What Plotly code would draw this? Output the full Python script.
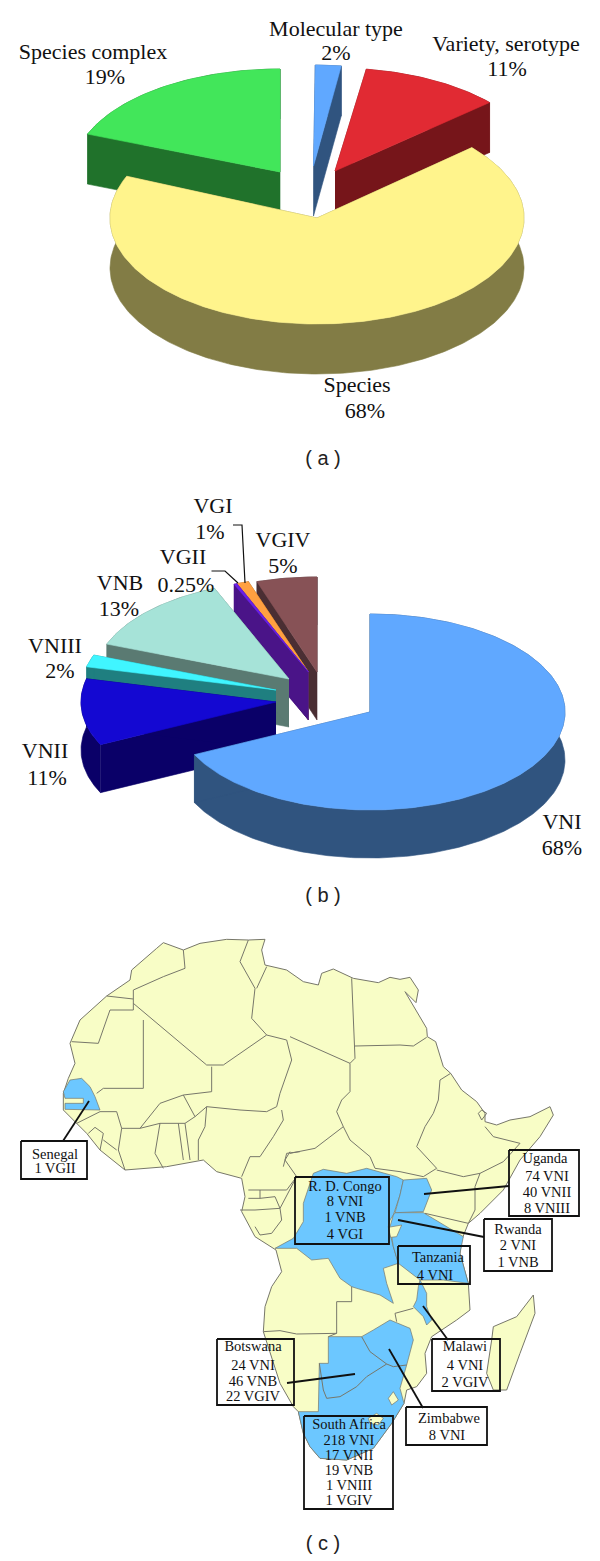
import math
import plotly.graph_objects as go

# ---------- DATA ----------
pie_a_names = ["Molecular type", "Variety, serotype", "Species", "Species complex"]
pie_a_values = [2, 11, 68, 19]
pie_b_names = ["VNI", "VNII", "VNIII", "VNB", "VGII", "VGI", "VGIV"]
pie_b_values = [68, 11, 2, 13, 0.25, 1, 5]

pie_a_labels = [("Molecular type", 336, 30), ("2%", 336, 54), ("Variety, serotype", 506, 45), ("11%", 507, 70),
                ("Species complex", 93, 53), ("19%", 105, 78), ("Species", 357, 386), ("68%", 365, 412)]
pie_b_labels = [("VGI", 213, 507), ("1%", 210, 533), ("VGIV", 283, 541), ("5%", 283, 567), ("VGII", 183, 558),
                ("0.25%", 186, 586), ("VNB", 120, 584), ("13%", 119, 610), ("VNIII", 55, 647), ("2%", 60, 672),
                ("VNII", 45, 752), ("11%", 47, 779), ("VNI", 562, 823), ("68%", 562, 849)]
panel_letters = [("( a )", 323, 460), ("( b )", 323, 897), ("( c )", 323, 1545)]

# map outlines in three sheets (sheet units: 3 per pixel)
sheet_w = (0, 920)
sheet_e = (290, 920)
sheet_s = (200, 1140)
coast_north = [(490,68),(550,90),(600,70),(680,58),(745,60),(795,58),(785,90),(795,135),(860,150),(900,180)]
coast_east = [(40,185),(85,195),(95,160),(130,147),(190,175),(265,188),(300,172),(330,178),(360,172),(385,210),(378,248),
              (345,215),(410,325),(412,350),(437,365),(460,440),(482,460),(515,510),(560,545),(585,580),(585,605),(620,615),
              (660,600),(720,590),(780,560),(790,585),(750,650),(690,720),(640,810),(570,880),(535,910),(515,960)]
coast_south = [(780,340),(805,430),(810,510),(770,540),(695,590),(675,640),(680,700),(650,740),(620,750),(612,790),(600,810),
               (575,850),(520,925),(440,960),(360,955),(330,920),(310,880),(295,815),(280,800),(240,730),(190,575),(195,500),
               (215,440),(245,395),(228,330),(165,290),(125,215)]
coast_west = [(735,830),(725,775),(650,755),(610,720),(500,740),(375,750),(300,690),(260,640),(230,610),(190,570),(190,520),
              (205,475),(225,430),(210,370),(240,300),(320,228),(390,180),(395,150),(470,85),(490,68)]
madagascar = [(1000,465),(1005,520),(960,640),(920,750),(880,750),(860,700),(875,600),(880,560),(950,530)]

senegal = [(190,515),(210,480),(245,475),(270,500),(285,530),(300,570),(195,568),(195,550),(250,550),(250,535),(195,535)]
drc = [(340,100),(370,88),(440,100),(500,85),(590,110),(610,120),(600,165),(580,225),(570,240),(565,260),(580,320),(595,370),
       (550,385),(560,430),(580,490),(540,465),(470,445),(455,440),(420,415),(385,355),(335,360),(290,325),(225,325),(280,295),
       (310,245),(310,190)]
tanzania = [(585,218),(670,218),(790,290),(780,340),(805,430),(730,420),(660,420),(595,370),(580,320),(570,260),(580,225)]
uganda = [(610,120),(680,115),(695,150),(670,215),(585,218),(600,165)]
malawi = [(655,440),(650,480),(640,500),(670,530),(680,555),(695,540),(680,500),(680,460),(660,420)]
southern = [(385,590),(485,590),(520,570),(570,540),(630,565),(640,600),(620,675),(600,745),(612,790),(600,810),(575,850),(520,925),
            (440,960),(360,955),(330,920),(310,880),(295,815),(355,815),(358,670),(385,670)]
burundi = [(565,262),(605,255),(590,290),(572,292)]
lesotho = [(505,835),(530,820),(550,835),(535,855),(510,850)]
swaziland = [(565,775),(580,755),(595,780),(575,795)]

borders_w = [
    [(550,90),(555,145),(490,170),(400,210),(400,237),(320,228)],
    [(400,250),(460,300),(620,435),(670,435),(800,345),(755,295),(765,205),(720,125),(745,60)],
    [(400,237),(400,270),(330,270),(295,370),(215,365)],
    [(800,140),(770,205)],
    [(430,300),(430,505),(310,505),(290,520)],
    [(635,440),(635,515),(550,525),(480,550),(420,625),(365,625),(350,575),(300,575)],
    [(800,345),(860,360),(875,420),(840,520),(830,560),(800,575),(720,570),(620,560),(585,590),(550,525)],
    [(420,625),(480,610),(555,610),(585,590)],
    [(480,610),(465,700),(490,745)],
    [(535,610),(550,720)],
    [(555,610),(570,720)],
    [(620,560),(615,620),(595,660),(595,720)],
    [(365,625),(355,690),(375,750)],
    [(230,610),(300,575)],
    [(265,640),(285,622),(310,640),(300,690)],
    [(310,660),(350,690)],
    [(725,770),(750,710),(780,710),(820,650),(850,600),(845,570)],
    [(850,740),(860,700),(900,695)],
]
borders_e = [
    [(185,175),(195,378),(195,415),(180,430),(0,350)],
    [(180,430),(180,515),(155,540),(140,575),(160,620),(180,660),(240,710),(255,745),(330,755),(400,770),(440,745)],
    [(195,378),(330,375),(370,378),(410,352)],
    [(160,620),(75,685),(0,700)],
    [(482,460),(450,480),(445,540),(430,580),(405,620),(380,680),(440,745)],
    [(440,750),(520,770),(570,760),(640,725),(690,670),(610,650),(585,620)],
    [(570,760),(555,800),(555,870),(535,910)],
    [(405,880),(535,910)],
    [(565,580),(575,570),(590,580),(575,600),(565,580)],
]
borders_s = [
    [(120,210),(165,210),(240,205),(290,110),(255,60),(270,35)],
    [(145,150),(180,150),(180,175),(145,175)],
    [(180,150),(260,150),(290,110)],
    [(180,175),(225,170),(240,205),(245,240),(215,280),(180,285),(165,260)],
    [(455,440),(455,485),(410,485),(410,580)],
    [(190,575),(240,572),(290,582),(410,580),(385,590)],
    [(585,520),(640,505)],
    [(585,520),(590,545)],
    [(358,670),(370,750),(380,775),(420,770),(470,740),(500,710),(560,672)],
    [(485,590),(510,635),(560,672),(580,680),(620,675)],
]

map_boxes = [(21,1141,87,1179),(295,1177,389,1244),(509,1150,579,1216),(484,1219,552,1271),(398,1246,470,1284),
             (432,1339,500,1391),(406,1407,487,1445),(217,1339,294,1405),(304,1416,393,1509)]
map_leaders = [(63,1141,89,1101),(424,1194,509,1186),(398,1220,484,1237),(423,1306,448,1340),
               (389,1349,423,1408),(287,1383,355,1374)]
map_texts = [("Senegal",55,1155),("1 VGII",55,1169),
             ("R. D. Congo",345,1187),("8 VNI",345,1202),("1 VNB",345,1218),("4 VGI",345,1235),
             ("Uganda",545,1159),("74 VNI",547,1177),("40 VNII",547,1193),("8 VNIII",547,1209),
             ("Rwanda",518,1230),("2 VNI",518,1246),("1 VNB",518,1263),
             ("Tanzania",438,1258),("4 VNI",435,1276),
             ("Malawi",465,1347),("4 VNI",465,1366),("2 VGIV",465,1383),
             ("Zimbabwe",449,1419),("8 VNI",447,1436),
             ("Botswana",253,1347),("24 VNI",253,1366),("46 VNB",253,1382),("22 VGIV",253,1397),
             ("South Africa",349,1425),("218 VNI",349,1441),("17 VNII",349,1456),("19 VNB",349,1471),("1 VNIII",349,1486),("1 VGIV",349,1501)]

# ---------- STYLE ----------
a_top = ["#60A8FF", "#E12A33", "#FFF48C", "#42E65A"]
a_side = ["#30547F", "#76151A", "#827C45", "#20722B"]
a_apex = [(313.5,166), (335,171), (317,218), (280,172)]
a_radii = [(207,101), (207,103), (207,106), (207,103)]
a_depth = 50
a_start = 0
a_turn = [0.5, 1.5, 1.6, 0]
a_order = [3, 1, 0, 2]

b_top = ["#60A8FF", "#1408D2", "#40F5FF", "#A6E3D8", "#6A20E8", "#FFA040", "#875256"]
b_side = ["#30547F", "#0A0068", "#1F7F80", "#5A7A72", "#4A1488", "#8A5A20", "#4A2E33"]
b_apex = [(370,712), (276,702), (276,690), (289,679), (308.5,672), (308.5,672), (317,672)]
b_radii = [(195,98), (195,98), (195,98), (195,98), (195,95), (195,95), (195,95)]
b_depth = 48
b_start = 0
b_turn = [0, 0, 0, 0, 0, 0, 0]
b_order = [6, 5, 4, 3, 2, 1, 0]

serif = "Liberation Serif"
land = "#F8FDC6"
blue = "#6CC7FF"
border = "#77776A"

fig = go.Figure()


def poly(xs, ys, fill, line=None, width=0.6):
    fig.add_trace(go.Scatter(x=xs, y=ys, mode="lines", fill="toself", fillcolor=fill,
                             line=dict(color=line or fill, width=width), hoverinfo="skip", showlegend=False))


def pie(values, start, turn, apex, radii, depth, top, side, order):
    total = sum(values)
    edges = [start]
    for v in values:
        edges.append(edges[-1] + 360.0 * v / total)
    for i in order:
        cx, cy = apex[i]
        a, b = radii[i]
        n = max(2, int(edges[i + 1] - edges[i]) + 2)
        th = [math.radians(turn[i] + edges[i] + (edges[i + 1] - edges[i]) * k / (n - 1)) for k in range(n)]
        ax = [cx + a * math.sin(t) for t in th]
        ay = [cy - b * math.cos(t) for t in th]
        # extruded faces: the rim and both cuts
        poly(ax + ax[::-1], ay + [y + depth for y in ay[::-1]], side[i])
        poly([cx, ax[0], ax[0], cx], [cy, ay[0], ay[0] + depth, cy + depth], side[i])
        poly([cx, ax[-1], ax[-1], cx], [cy, ay[-1], ay[-1] + depth, cy + depth], side[i])
        poly([cx] + ax + [cx], [cy] + ay + [cy], top[i])


pie(pie_a_values, a_start, a_turn, a_apex, a_radii, a_depth, a_top, a_side, a_order)
pie(pie_b_values, b_start, b_turn, b_apex, b_radii, b_depth, b_top, b_side, b_order)


def place(points, sheet):
    return [p[0] / 3 + sheet[0] for p in points], [p[1] / 3 + sheet[1] for p in points]


# map
xs, ys = [], []
for seg, sh in [(coast_north, sheet_w), (coast_east, sheet_e), (coast_south, sheet_s), (coast_west, sheet_w)]:
    px, py = place(seg, sh)
    xs += px
    ys += py
poly(xs, ys, land, border, 1)
px, py = place(madagascar, sheet_s)
poly(px + px[:1], py + py[:1], land, border, 1)

for shape in [drc, tanzania, uganda, malawi, southern]:
    px, py = place(shape, sheet_s)
    poly(px + px[:1], py + py[:1], blue, border, 0.7)
px, py = place(senegal, sheet_w)
poly(px + px[:1], py + py[:1], blue, border, 0.7)
for shape in [burundi, lesotho, swaziland]:
    px, py = place(shape, sheet_s)
    poly(px + px[:1], py + py[:1], land, border, 0.7)

bx, by = [], []
for group, sh in [(borders_w, sheet_w), (borders_e, sheet_e), (borders_s, sheet_s)]:
    for seg in group:
        px, py = place(seg, sh)
        bx += px + [None]
        by += py + [None]
fig.add_trace(go.Scatter(x=bx, y=by, mode="lines", line=dict(color=border, width=1), hoverinfo="skip", showlegend=False))

# leader lines and boxes
lx, ly = [], []
for x0, y0, x1, y1 in map_leaders:
    lx += [x0, x1, None]
    ly += [y0, y1, None]
for x0, y0, x1, y1 in map_boxes:
    lx += [x0, x1, x1, x0, x0, None]
    ly += [y0, y0, y1, y1, y0, None]
fig.add_trace(go.Scatter(x=lx, y=ly, mode="lines", line=dict(color="#111111", width=1.8), hoverinfo="skip", showlegend=False))
# pie (b) callouts
fig.add_trace(go.Scatter(x=[233, 242, 245, None, 211.5, 225, 238], y=[525, 525, 583, None, 571, 571, 583], mode="lines",
                         line=dict(color="#111111", width=1.2), hoverinfo="skip", showlegend=False))


def texts(items, family, size, color="#111111"):
    fig.add_trace(go.Scatter(x=[t[1] for t in items], y=[t[2] for t in items], text=[t[0] for t in items], mode="text",
                             textposition="middle center", textfont=dict(family=family, size=size, color=color),
                             hoverinfo="skip", showlegend=False))


texts(pie_a_labels, serif, 22)
texts(pie_b_labels, serif, 22)
texts(panel_letters, "Liberation Sans", 20, "#222222")
texts(map_texts, serif, 14.5)

fig.update_xaxes(range=[0, 600], visible=False, fixedrange=True)
fig.update_yaxes(range=[1561, 0], visible=False, fixedrange=True)
fig.update_layout(width=600, height=1561, margin=dict(l=0, r=0, t=0, b=0), paper_bgcolor="white", plot_bgcolor="white")
fig.write_html("out.html", config={"displayModeBar": False},
               post_script="document.body.style.margin='0';document.documentElement.style.overflow='hidden';")
